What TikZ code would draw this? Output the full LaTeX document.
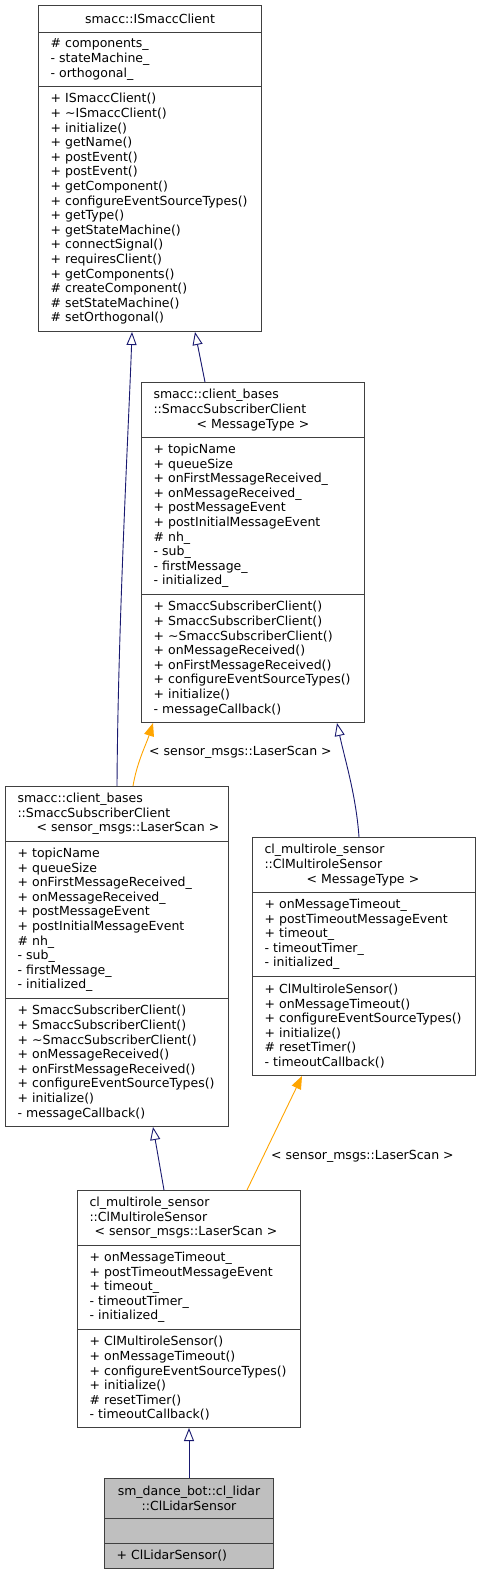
\documentclass[tikz,border=0pt]{standalone}
\usepackage{fontspec}
\newfontfamily\dfont{DejaVu Sans}
\usetikzlibrary{arrows.meta,calc}
\definecolor{boxc}{RGB}{64,64,64}
\definecolor{inhc}{RGB}{25,25,112}
\definecolor{tplc}{RGB}{255,165,0}
\definecolor{curc}{RGB}{191,191,191}
\tikzset{
  cls/.style={draw=boxc, line width=1pt, minimum width=223pt, text width=199pt,
    inner xsep=12pt, inner ysep=0pt, align=left, anchor=north west,
    font=\dfont\fontsize{12.5}{14.6}\selectfont},
  smallcls/.style={cls, minimum width=169pt, text width=145pt, fill=curc},
  inh/.style={draw=inhc, line width=0.9pt, -{Triangle[length=13pt,width=10pt,fill=white]}},
  tpl/.style={draw=tplc, line width=0.9pt, -{Triangle[length=13pt,width=10pt,fill=tplc]}},
  lbl/.style={font=\dfont\fontsize{12.5}{14.6}\selectfont, inner sep=0pt},
}
\begin{document}
\begin{tikzpicture}[x=1pt,y=-1pt]
\fill[white] (0,0) rectangle (480,1575);
\useasboundingbox (0,0) rectangle (480,1575);

% ISmaccClient
\node[cls, minimum height=27pt, align=center] (b1t) at (38,5) {smacc::ISmaccClient};
\node[cls, minimum height=54pt] (b1a) at (38,32) {\# components\_\\- stateMachine\_\\- orthogonal\_};
\node[cls, minimum height=245pt] (b1m) at (38,86) {+ ISmaccClient()\\+ \textasciitilde{}ISmaccClient()\\+ initialize()\\+ getName()\\+ postEvent()\\+ postEvent()\\+ getComponent()\\+ configureEventSourceTypes()\\+ getType()\\+ getStateMachine()\\+ connectSignal()\\+ requiresClient()\\+ getComponents()\\\# createComponent()\\\# setStateMachine()\\\# setOrthogonal()};

% SmaccSubscriberClient<MessageType>
\node[cls, minimum height=55pt] (b2t) at (141,382) {smacc::client\_bases\\::SmaccSubscriberClient\\\mbox{\hspace*{43pt}< MessageType >}};
\node[cls, minimum height=157pt] (b2a) at (141,437) {+ topicName\\+ queueSize\\+ onFirstMessageReceived\_\\+ onMessageReceived\_\\+ postMessageEvent\\+ postInitialMessageEvent\\\# nh\_\\- sub\_\\- firstMessage\_\\- initialized\_};
\node[cls, minimum height=128pt] (b2m) at (141,594) {+ SmaccSubscriberClient()\\+ SmaccSubscriberClient()\\+ \textasciitilde{}SmaccSubscriberClient()\\+ onMessageReceived()\\+ onFirstMessageReceived()\\+ configureEventSourceTypes()\\+ initialize()\\- messageCallback()};

% SmaccSubscriberClient<LaserScan>
\node[cls, minimum height=55pt] (b3t) at (5,786) {smacc::client\_bases\\::SmaccSubscriberClient\\\makebox[0pt][l]{\hspace*{19pt}< sensor\_msgs::LaserScan >}};
\node[cls, minimum height=157pt] (b3a) at (5,841) {+ topicName\\+ queueSize\\+ onFirstMessageReceived\_\\+ onMessageReceived\_\\+ postMessageEvent\\+ postInitialMessageEvent\\\# nh\_\\- sub\_\\- firstMessage\_\\- initialized\_};
\node[cls, minimum height=128pt] (b3m) at (5,998) {+ SmaccSubscriberClient()\\+ SmaccSubscriberClient()\\+ \textasciitilde{}SmaccSubscriberClient()\\+ onMessageReceived()\\+ onFirstMessageReceived()\\+ configureEventSourceTypes()\\+ initialize()\\- messageCallback()};

% ClMultiroleSensor<MessageType>
\node[cls, minimum height=55pt] (b4t) at (252,837) {cl\_multirole\_sensor\\::ClMultiroleSensor\\\mbox{\hspace*{42pt}< MessageType >}};
\node[cls, minimum height=84pt] (b4a) at (252,892) {+ onMessageTimeout\_\\+ postTimeoutMessageEvent\\+ timeout\_\\- timeoutTimer\_\\- initialized\_};
\node[cls, minimum height=99pt] (b4m) at (252,976) {+ ClMultiroleSensor()\\+ onMessageTimeout()\\+ configureEventSourceTypes()\\+ initialize()\\\# resetTimer()\\- timeoutCallback()};

% ClMultiroleSensor<LaserScan>
\node[cls, minimum height=55pt] (b5t) at (77,1190) {cl\_multirole\_sensor\\::ClMultiroleSensor\\\makebox[0pt][l]{\hspace*{5pt}< sensor\_msgs::LaserScan >}};
\node[cls, minimum height=84pt] (b5a) at (77,1245) {+ onMessageTimeout\_\\+ postTimeoutMessageEvent\\+ timeout\_\\- timeoutTimer\_\\- initialized\_};
\node[cls, minimum height=98pt] (b5m) at (77,1329) {+ ClMultiroleSensor()\\+ onMessageTimeout()\\+ configureEventSourceTypes()\\+ initialize()\\\# resetTimer()\\- timeoutCallback()};

% ClLidarSensor
\node[smallcls, minimum height=40pt, align=center] (b6t) at (104,1478) {sm\_dance\_bot::cl\_lidar\\::ClLidarSensor};
\node[smallcls, minimum height=25pt] (b6a) at (104,1518) {};
\node[smallcls, minimum height=25pt] (b6m) at (104,1543) {+ ClLidarSensor()};

% connectors
\draw[inh] ($(b3t.north west)+(112,0)$) .. controls (118,620) and (129,420) .. ($(b1m.south west)+(94,0)$);
\draw[inh] ($(b2t.north west)+(64,0)$) -- ($(b1m.south west)+(157,0)$);
\draw[tpl] ($(b3t.north west)+(128,0)$) .. controls (137,762) and (146,745) .. ($(b2m.south west)+(12,0)$);
\draw[inh] ($(b4t.north west)+(107,0)$) .. controls (356,795) and (345,760) .. ($(b2m.south west)+(196,0)$);
\draw[inh] ($(b5t.north west)+(87,0)$) -- ($(b3m.south west)+(148,0)$);
\draw[tpl] ($(b5t.north west)+(170,0)$) -- ($(b4m.south west)+(50,0)$);
\draw[inh] (b6t.north) -- (b5m.south);

% labels
\node[lbl, anchor=west] (l1) at (149,752.7) {< sensor\_msgs::LaserScan >};
\node[lbl, anchor=west] (l2) at (271,1156.7) {< sensor\_msgs::LaserScan >};
\end{tikzpicture}
\end{document}
